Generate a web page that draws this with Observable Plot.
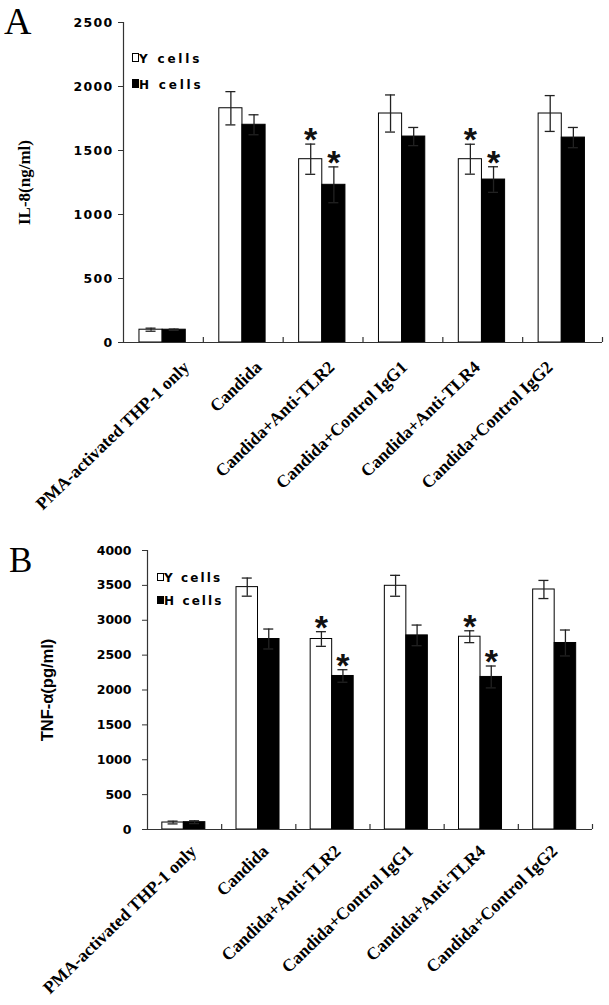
<!DOCTYPE html>
<html><head><meta charset="utf-8">
<script src="https://cdn.jsdelivr.net/npm/d3@7"></script>
<script src="https://cdn.jsdelivr.net/npm/@observablehq/plot@0.6"></script>
<style>
body{margin:0;background:#fff;}
#wrap{position:relative;width:609px;height:1005px;overflow:hidden;background:#fff;}
.panel{position:absolute;left:0;}
.letter{position:absolute;font-family:"Liberation Serif";font-weight:normal;color:#000;line-height:1;}
.leg{position:absolute;font-family:"DejaVu Sans";font-weight:bold;font-size:12px;color:#000;line-height:1;white-space:nowrap;}
.sw{position:absolute;border:1px solid #000;box-sizing:border-box;}
</style></head><body><div id="wrap"></div>
<script>
// ---------- data ----------
const categories = ["PMA-activated THP-1 only","Candida","Candida+Anti-TLR2","Candida+Control IgG1","Candida+Anti-TLR4","Candida+Control IgG2"];
const seriesNames = ["Y cells","H cells"];
const significant = [false,false,true,false,true,false];

const il8Y    = [100, 1830, 1432, 1789, 1432, 1789];
const il8YErr = [12, 130, 118, 145, 117, 140];
const il8H    = [100, 1701, 1232, 1609, 1273, 1601];
const il8HErr = [5, 78, 140, 71, 100, 79];
const il8Ticks = [0, 500, 1000, 1500, 2000, 2500];

const tnfY    = [100, 3475, 2731, 3494, 2764, 3441];
const tnfYErr = [20, 130, 105, 150, 85, 130];
const tnfH    = [105, 2731, 2201, 2783, 2187, 2674];
const tnfHErr = [20, 143, 90, 148, 157, 186];
const tnfTicks = [0, 500, 1000, 1500, 2000, 2500, 3000, 3500, 4000];

// ---------- layout/style ----------
const slot = {"Y cells": [0.2, 0.49], "H cells": [0.49, 0.78]};
const fillOf = {"Y cells": "#fff", "H cells": "#000"};

function buildRows(yv, ye, hv, he) {
  const rows = [];
  categories.forEach((c, i) => {
    rows.push({cat: c, i, series: seriesNames[0], value: yv[i], err: ye[i], sig: significant[i]});
    rows.push({cat: c, i, series: seriesNames[1], value: hv[i], err: he[i], sig: significant[i]});
  });
  return rows;
}
const x1 = d => d.i + slot[d.series][0];
const x2 = d => d.i + slot[d.series][1];
const xm = d => d.i + (slot[d.series][0] + slot[d.series][1]) / 2;

function panel(o) {
  const rows = buildRows(o.yv, o.ye, o.hv, o.he);
  const n = categories.length;
  const ymax = o.ticks[o.ticks.length - 1];
  const plotH = o.height - o.marginTop - o.marginBottom;
  const plotW = 609 - o.marginLeft - o.marginRight;
  const tickLen = ymax * 5 / plotH;
  const cap = 0.5 * 10 / (plotW / n);
  const svg = Plot.plot({
    width: 609, height: o.height,
    marginLeft: o.marginLeft, marginRight: o.marginRight,
    marginTop: o.marginTop, marginBottom: o.marginBottom,
    style: {background: "#fff", color: "#000", overflow: "visible"},
    x: {domain: [0, n], axis: null},
    y: {domain: [0, ymax], axis: null},
    marks: [
      Plot.rect(rows, {x1, x2, y1: () => 0, y2: "value", fill: d => fillOf[d.series], stroke: "#000", strokeWidth: 1}),
      Plot.ruleX(rows, {x: xm, y1: d => d.value - d.err, y2: d => d.value + d.err, stroke: "#222", strokeWidth: 1.3}),
      Plot.ruleY(rows, {y: d => d.value + d.err, x1: d => xm(d) - cap, x2: d => xm(d) + cap, stroke: "#222", strokeWidth: 1.3}),
      Plot.ruleY(rows, {y: d => d.value - d.err, x1: d => xm(d) - cap, x2: d => xm(d) + cap, stroke: "#222", strokeWidth: 1.3}),
      Plot.text(rows.filter(d => d.sig), {x: xm, y: d => d.value + d.err, text: () => "*", lineAnchor: "bottom", dy: 7, fontSize: 34, fontWeight: "bold", fontFamily: "Liberation Sans", fill: "#111"}),
      Plot.ruleY([0], {stroke: "#333", strokeWidth: 1.2}),
      Plot.ruleX([0], {stroke: "#333", strokeWidth: 1.2}),
      Plot.ruleX(d3.range(1, n + 1), {y1: () => 0, y2: () => tickLen, stroke: "#333", strokeWidth: 1.2}),
      Plot.axisY(o.ticks, {tickSize: 5, tickPadding: o.tickPadding, tickFormat: d => String(d), fontSize: 12.5, fontFamily: "DejaVu Sans", fontWeight: "bold", stroke: "#333", label: null}),
      Plot.text([o.yLabel], {frameAnchor: "left", rotate: -90, dx: o.yLabelDx, text: d => d, textAnchor: "middle", lineAnchor: "middle", fontSize: o.yLabelSize, fontFamily: o.yLabelFont, fontWeight: "bold"}),
      Plot.text(categories, {x: (d, i) => n / 2 + (i - (n - 1) / 2) * o.labSpread, frameAnchor: "bottom", text: d => d, rotate: -44, textAnchor: "end", lineAnchor: "bottom", dx: o.labDx, dy: o.labDy, fontSize: 17.5, fontFamily: "Liberation Serif", fontWeight: "bold"})
    ]
  });
  d3.select(svg).selectAll('g[aria-label="y-axis tick label"] text').style("letter-spacing", o.tickSpacing + "px");
  svg.classList.add("panel");
  svg.style.top = o.top + "px";
  return svg;
}

const wrap = document.getElementById("wrap");
wrap.appendChild(panel({
  yv: il8Y, ye: il8YErr, hv: il8H, he: il8HErr, ticks: il8Ticks,
  top: 0, height: 530, marginTop: 22, marginBottom: 188, marginLeft: 123, marginRight: 7,
  yLabel: "IL-8(ng/ml)", yLabelFont: "Liberation Serif", yLabelSize: 17, yLabelDx: -99,
  tickSpacing: 1.3, tickPadding: 5, labDx: 9, labDy: 26, labSpread: 0.911
}));
wrap.appendChild(panel({
  yv: tnfY, ye: tnfYErr, hv: tnfH, he: tnfHErr, ticks: tnfTicks,
  top: 530, height: 475, marginTop: 20, marginBottom: 176, marginLeft: 147, marginRight: 17,
  yLabel: "TNF-α(pg/ml)", yLabelFont: "Liberation Sans", yLabelSize: 16.5, yLabelDx: -100,
  tickSpacing: 0, tickPadding: 11, labDx: 8, labDy: 23, labSpread: 0.974
}));

// panel letters
function addDiv(cls, css, text) {
  const el = document.createElement("div");
  el.className = cls;
  Object.assign(el.style, css);
  if (text) el.textContent = text;
  wrap.appendChild(el);
  return el;
}
addDiv("letter", {left: "4px", top: "2px", fontSize: "38px"}, "A");
addDiv("letter", {left: "9px", top: "543px", fontSize: "35px"}, "B");

// legends
const legends = [
  {sx: 132, sy: [53, 79], sw: 7, sh: 9, tx: 139, ty: [53, 79], spacing: 2.8},
  {sx: 157, sy: [573, 596], sw: 7, sh: 8, tx: 164, ty: [572, 595], spacing: 2.1}
];
legends.forEach(L => {
  seriesNames.forEach((s, k) => {
    addDiv("sw", {left: L.sx + "px", top: L.sy[k] + "px", width: L.sw + "px", height: L.sh + "px", background: fillOf[s]});
    addDiv("leg", {left: L.tx + "px", top: L.ty[k] + "px", letterSpacing: L.spacing + "px"}, s);
  });
});
</script>
</body></html>
